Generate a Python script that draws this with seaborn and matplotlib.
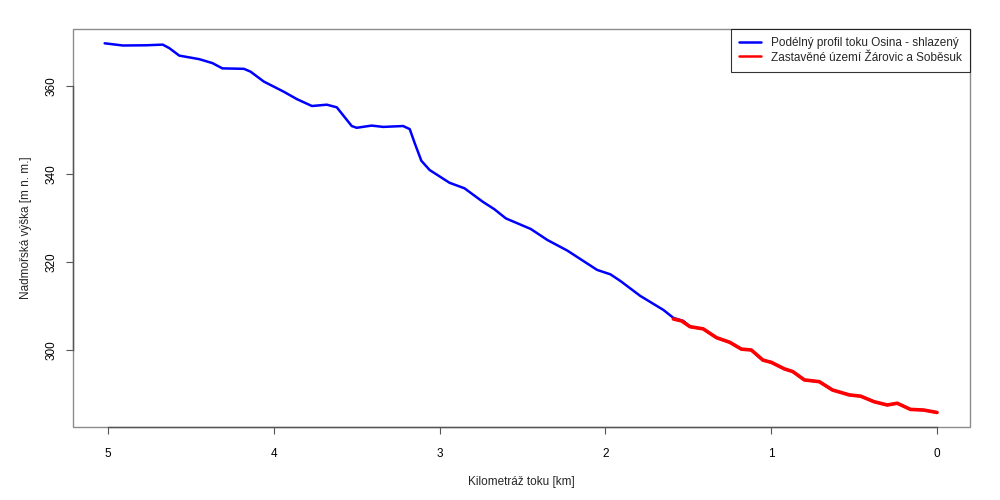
import pandas as pd
import matplotlib
matplotlib.use('Agg')
import matplotlib.pyplot as plt
import seaborn as sns
from matplotlib.patches import Rectangle

# Longitudinal profile of the Osina stream (smoothed)
profile_km = [5.02, 4.91, 4.77, 4.67, 4.63, 4.57, 4.45, 4.37, 4.31, 4.18, 4.14,
              4.06, 3.94, 3.86, 3.77, 3.68, 3.62, 3.53, 3.50, 3.41, 3.34, 3.22,
              3.18, 3.15, 3.11, 3.06, 2.94, 2.85, 2.74, 2.67, 2.60, 2.45, 2.35,
              2.23, 2.05, 1.97, 1.91, 1.79, 1.65, 1.59, 1.53, 1.49, 1.41, 1.33,
              1.25, 1.18, 1.12, 1.05, 1.00, 0.92, 0.87, 0.80, 0.71, 0.63, 0.53,
              0.46, 0.38, 0.30, 0.24, 0.16, 0.08, 0.00]
profile_m = [369.7, 369.2, 369.25, 369.4, 368.6, 366.9, 366.1, 365.2, 364.0, 363.9, 363.25,
             361.0, 358.7, 357.0, 355.45, 355.75, 355.15, 350.9, 350.5, 351.0, 350.7, 350.9,
             350.2, 347.0, 343.0, 340.9, 338.0, 336.75, 333.7, 332.0, 329.9, 327.5, 325.0,
             322.6, 318.2, 317.2, 315.7, 312.3, 309.1, 307.3, 306.6, 305.3, 304.8, 302.8,
             301.75, 300.2, 300.0, 297.7, 297.2, 295.7, 295.1, 293.2, 292.8, 290.9, 289.8,
             289.5, 288.25, 287.5, 287.9, 286.5, 286.35, 285.8]

# Built-up area of Žárovice and Soběsuk
urban_km = [1.59, 1.54, 1.49, 1.41, 1.33, 1.25, 1.18, 1.12, 1.05, 1.00, 0.92,
            0.87, 0.80, 0.71, 0.63, 0.53, 0.46, 0.38, 0.30, 0.24, 0.16, 0.08, 0.00]
urban_m = [307.05, 306.6, 305.3, 304.8, 302.8, 301.75, 300.2, 300.0, 297.7, 297.2, 295.7,
           295.1, 293.2, 292.8, 290.9, 289.8, 289.5, 288.25, 287.5, 287.9, 286.5, 286.35, 285.8]

x_ticks = [5, 4, 3, 2, 1, 0]
y_ticks = [300, 320, 340, 360]

label_profile = 'Podélný profil toku Osina - shlazený'
label_urban = 'Zastavěné území Žárovic a Soběsuk'

sns.set_style('white')
plt.rcParams['font.family'] = ['Liberation Sans', 'DejaVu Sans']
plt.rcParams['font.size'] = 8.5

fig = plt.figure(figsize=(10, 5), dpi=100)
ax = fig.add_axes([0.073, 0.146, 0.897, 0.796])

profile = pd.DataFrame({'km': profile_km, 'm': profile_m})
urban = pd.DataFrame({'km': urban_km, 'm': urban_m})

sns.lineplot(data=profile, x='km', y='m', ax=ax, color='#0000ff', linewidth=1.8,
             estimator=None, label=label_profile)
sns.lineplot(data=urban, x='km', y='m', ax=ax, color='#ff0000', linewidth=2.6,
             estimator=None, label=label_urban)
for line in ax.get_lines():
    line.set_solid_joinstyle('round')
    line.set_solid_capstyle('round')

ax.set_xlim(5.211, -0.199)
ax.set_ylim(282.5, 372.95)
ax.set_xticks(x_ticks)
ax.set_yticks(y_ticks)
ax.set_yticklabels([str(v) for v in y_ticks], rotation=90, va='center')

# R-like axes: light box, darker axis lines only between the outer ticks
for side in ['top', 'right', 'bottom', 'left']:
    ax.spines[side].set_visible(False)
ax.add_patch(Rectangle((0, 0), 1, 1, transform=ax.transAxes, fill=False,
                       edgecolor='#8c8c8c', linewidth=1.0, zorder=5, clip_on=False))
for side in ['bottom', 'left']:
    ax.spines[side].set_visible(True)
    ax.spines[side].set_color('#555555')
    ax.spines[side].set_linewidth(1.0)
    ax.spines[side].set_zorder(6)
ax.spines['bottom'].set_bounds(0, 5)
ax.spines['left'].set_bounds(300, 360)

ax.tick_params(axis='both', direction='out', length=5, width=0.8, color='#555555',
               labelsize=8.5, labelcolor='black', bottom=True, left=True)
ax.tick_params(axis='x', pad=10)
ax.tick_params(axis='y', pad=6)

ax.set_xlabel('Kilometráž toku [km]', fontsize=8.5, labelpad=12)
ax.set_ylabel('Nadmořská výška [m n. m.]', fontsize=8.5, labelpad=10)
ax.grid(False)

leg = ax.legend(loc='upper right', borderaxespad=0, frameon=True, fancybox=False,
                edgecolor='black', fontsize=8.5, handlelength=1.9, borderpad=0.7,
                labelspacing=0.2, handletextpad=0.8)
leg.get_frame().set_linewidth(0.8)
for h in leg.get_lines():
    h.set_linewidth(1.8)

fig.savefig('out.png', dpi=100)
